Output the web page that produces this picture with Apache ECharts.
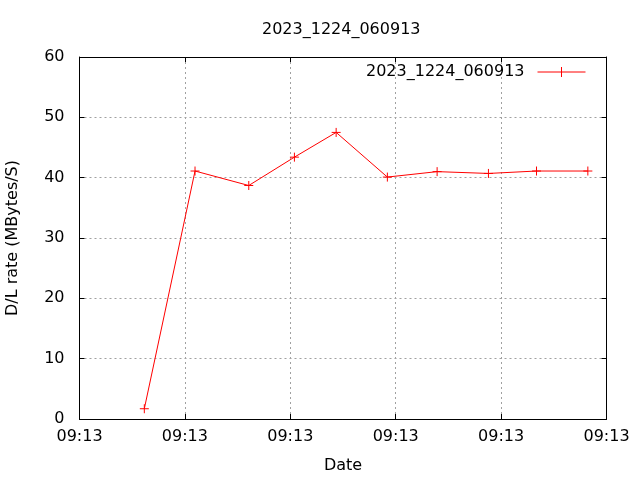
<!DOCTYPE html>
<html><head><meta charset="utf-8">
<script src="https://cdn.jsdelivr.net/npm/echarts@6/dist/echarts.min.js"></script>
<style>html,body{margin:0;padding:0;background:#fff}#c{width:640px;height:480px}</style>
</head><body><div id="c"></div>
<script>
var titleText = "2023_1224_060913";
var seriesName = "2023_1224_060913";
// seconds after 09:13:00
var times = [6.15, 10.96, 16.06, 20.39, 24.35, 29.21, 33.93, 38.8, 43.36, 48.23];
var rates = [1.7, 41.1, 38.7, 43.4, 47.5, 40.1, 41.0, 40.7, 41.1, 41.1];
var xTickLabels = ["09:13", "09:13", "09:13", "09:13", "09:13", "09:13"];
var yTicks = [0, 10, 20, 30, 40, 50, 60];

var font = "DejaVu Sans";
var plus = 'path://M5,0 L5,10 M0,5 L10,5';
var chart = echarts.init(document.getElementById('c'), null, {renderer: 'canvas'});
var data = times.map(function (t, i) { return [t, rates[i]]; });
var gridLine = {show: true, lineStyle: {color: '#a0a0a0', type: [2, 3], width: 1}};
chart.setOption({
  animation: false,
  backgroundColor: '#fff',
  title: {text: titleText, left: 257, top: 17, textStyle: {fontFamily: font, fontSize: 16, fontWeight: 'normal', color: '#000'}},
  legend: {
    right: 47, top: 59, align: 'right', itemWidth: 48, itemHeight: 10, itemGap: 0,
    icon: 'path://M0,5 L48,5 M24,0 L24,10',
    textStyle: {fontFamily: font, fontSize: 16, color: '#000', padding: [0, 8, 0, 0]},
    data: [{name: seriesName, itemStyle: {color: 'none', borderColor: '#ff0000', borderWidth: 1}}]
  },
  grid: {left: 79.5, right: 33.5, top: 57, bottom: 61, containLabel: false, outerBoundsMode: 'none'},
  xAxis: [{
    type: 'value', min: 0, max: 50, interval: 10,
    name: 'Date', nameLocation: 'middle', nameGap: 39,
    nameTextStyle: {fontFamily: font, fontSize: 16, color: '#000'},
    axisLine: {show: true, onZero: false, lineStyle: {color: '#000', width: 1}},
    axisTick: {show: true, inside: true, length: 5, lineStyle: {color: '#000'}},
    axisLabel: {fontFamily: font, fontSize: 16, color: '#000', margin: 10,
      formatter: function (v) { return xTickLabels[Math.round(v / 10)]; }},
    splitLine: gridLine
  }, {
    type: 'value', position: 'top', min: 0, max: 50, interval: 10,
    axisLine: {show: true, onZero: false, lineStyle: {color: '#000', width: 1}},
    axisTick: {show: true, inside: true, length: 5, lineStyle: {color: '#000'}},
    axisLabel: {show: false}, splitLine: {show: false}
  }],
  yAxis: [{
    type: 'value', min: yTicks[0], max: yTicks[yTicks.length - 1], interval: 10,
    name: 'D/L rate (MBytes/S)', nameLocation: 'middle', nameGap: 59, nameRotate: 90,
    nameTextStyle: {fontFamily: font, fontSize: 16, color: '#000'},
    axisLine: {show: true, onZero: false, lineStyle: {color: '#000', width: 1}},
    axisTick: {show: true, inside: true, length: 5, lineStyle: {color: '#000'}},
    axisLabel: {fontFamily: font, fontSize: 16, color: '#000', margin: 15},
    splitLine: gridLine
  }, {
    type: 'value', position: 'right', min: yTicks[0], max: yTicks[yTicks.length - 1], interval: 10,
    axisLine: {show: true, onZero: false, lineStyle: {color: '#000', width: 1}},
    axisTick: {show: true, inside: true, length: 5, lineStyle: {color: '#000'}},
    axisLabel: {show: false}, splitLine: {show: false}
  }],
  series: [{
    name: seriesName, type: 'line', data: data,
    symbol: plus, symbolSize: 9, showAllSymbol: true,
    lineStyle: {color: '#ff0000', width: 1},
    itemStyle: {color: 'none', borderColor: '#ff0000', borderWidth: 1},
    emphasis: {disabled: true}
  }]
});
</script></body></html>
